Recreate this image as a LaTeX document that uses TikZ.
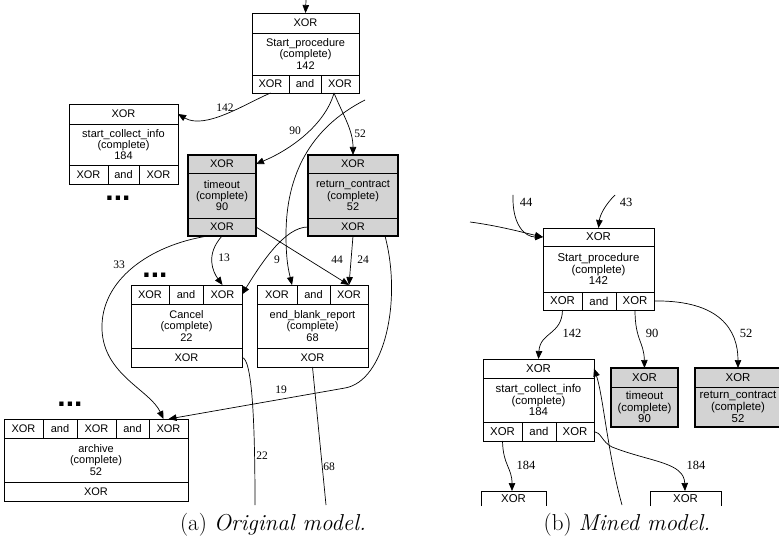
\documentclass[tikz,border=0pt]{standalone}
\usepackage{fontspec}
\newfontfamily\boxfont{Liberation Sans}
\newfontfamily\lblfont{Liberation Serif}
\usetikzlibrary{arrows.meta}
\definecolor{boxgray}{HTML}{D3D3D3}
\begin{document}
\begin{tikzpicture}[x=1pt,y=-1pt,
  cell/.style={draw=black, line width=0.7pt, inner sep=0pt, outer sep=0pt, anchor=north west, align=center, font=\boxfont\fontsize{11}{11.4}\selectfont},
  cellR/.style={cell, font=\boxfont\fontsize{11.4}{11.8}\selectfont},
  gfill/.style={fill=boxgray},
  gborder/.style={draw=black, line width=1.8pt},
  edge/.style={draw=black, line width=0.7pt, -{Triangle[length=8pt,width=6.5pt]}},
  plain/.style={draw=black, line width=0.7pt},
  lbl/.style={font=\lblfont\fontsize{11.5}{12}\selectfont, inner sep=0pt},
  lblR/.style={font=\lblfont\fontsize{12.5}{13}\selectfont, inner sep=0pt},
  dotsx/.style={font=\boxfont\bfseries\fontsize{30}{30}\selectfont, inner sep=0pt, anchor=base},
  captionx/.style={font=\fontsize{23}{27}\selectfont, inner sep=0pt, anchor=base}
]
\useasboundingbox (0,0) rectangle (779,545);
\clip (0,0) rectangle (779,545);

% ---------------- (a) original model ----------------
% Start_procedure
\node[cell, minimum width=107pt, minimum height=20pt] (SPt) at (252,13) {XOR};
\node[cell, minimum width=107pt, minimum height=42pt] (SPm) at (252,33) {Start\_procedure\\(complete)\\142};
\node[cell, minimum width=37pt, minimum height=18pt] (SPa) at (252,75) {XOR};
\node[cell, minimum width=32pt, minimum height=18pt] (SPb) at (289,75) {and};
\node[cell, minimum width=38pt, minimum height=18pt] (SPc) at (321,75) {XOR};
% start_collect_info
\node[cell, minimum width=109pt, minimum height=20pt] (SCIt) at (69,104) {XOR};
\node[cell, minimum width=109pt, minimum height=41pt] (SCIm) at (69,124) {start\_collect\_info\\(complete)\\184};
\node[cell, minimum width=39pt, minimum height=19pt] (SCIa) at (69,165) {XOR};
\node[cell, minimum width=31pt, minimum height=19pt] (SCIb) at (108,165) {and};
\node[cell, minimum width=39pt, minimum height=19pt] (SCIc) at (139,165) {XOR};
% timeout (grey)
\node[cell, gfill, minimum width=68pt, minimum height=18pt] (TOt) at (188,155) {XOR};
\node[cell, gfill, minimum width=68pt, minimum height=45pt] (TOm) at (188,173) {timeout\\(complete)\\90};
\node[cell, gfill, minimum width=68pt, minimum height=18pt] (TOb) at (188,218) {XOR};
\draw[gborder] (TOt.north west) rectangle (TOb.south east);
% return_contract (grey)
\node[cell, gfill, minimum width=90pt, minimum height=18pt] (RCt) at (308,155) {XOR};
\node[cell, gfill, minimum width=90pt, minimum height=45pt] (RCm) at (308,173) {return\_contract\\(complete)\\52};
\node[cell, gfill, minimum width=90pt, minimum height=18pt] (RCb) at (308,218) {XOR};
\draw[gborder] (RCt.north west) rectangle (RCb.south east);
% Cancel
\node[cell, minimum width=38pt, minimum height=19pt] (CAa) at (131,285) {XOR};
\node[cell, minimum width=34pt, minimum height=19pt] (CAb) at (169,285) {and};
\node[cell, minimum width=39pt, minimum height=19pt] (CAc) at (203,285) {XOR};
\node[cell, minimum width=111pt, minimum height=44pt] (CAm) at (131,304) {Cancel\\(complete)\\22};
\node[cell, minimum width=111pt, minimum height=19pt] (CAbot) at (131,348) {XOR};
% end_blank_report
\node[cell, minimum width=40pt, minimum height=19pt] (EBa) at (257,285) {XOR};
\node[cell, minimum width=33pt, minimum height=19pt] (EBb) at (297,285) {and};
\node[cell, minimum width=38pt, minimum height=19pt] (EBc) at (330,285) {XOR};
\node[cell, minimum width=111pt, minimum height=44pt] (EBm) at (257,304) {end\_blank\_report\\(complete)\\68};
\node[cell, minimum width=111pt, minimum height=19pt] (EBbot) at (257,348) {XOR};
% archive
\node[cell, minimum width=39pt, minimum height=19pt] (ARa) at (4,419) {XOR};
\node[cell, minimum width=34pt, minimum height=19pt] (ARb) at (43,419) {and};
\node[cell, minimum width=39pt, minimum height=19pt] (ARc) at (77,419) {XOR};
\node[cell, minimum width=33pt, minimum height=19pt] (ARd) at (116,419) {and};
\node[cell, minimum width=39pt, minimum height=19pt] (ARe) at (149,419) {XOR};
\node[cell, minimum width=184pt, minimum height=44pt] (ARm) at (4,438) {archive\\(complete)\\52};
\node[cell, minimum width=184pt, minimum height=19pt] (ARbot) at (4,482) {XOR};
% dots
\node[dotsx] (d1) at (118,200.5) {...};
\node[dotsx] (d2) at (155,278) {...};
\node[dotsx] (d3) at (70,406) {...};

% connectors (a)
\coordinate (in1) at (306,0);
\coordinate (fr1) at (365,100);
\coordinate (e22) at (255,505);
\coordinate (e68) at (326,505);
\draw[edge] (in1) -- (SPt.north);
\draw[edge] (SPa.south) .. controls (245,104) and (205,130) .. (SCIt.east);
\draw[edge] ([xshift=-6pt]SPc.south) .. controls (325,125) and (290,150) .. (TOt.east);
\draw[edge] ([xshift=-6pt]SPc.south) .. controls (343,115) and (353,130) .. (RCt.north);
\draw[edge] (fr1) .. controls (310,128) and (286,175) .. (286,235) .. controls (286,262) and (289,272) .. ([xshift=15pt]EBa.north);
\draw[edge] (TOb.south) .. controls (205,255) and (213,272) .. (CAc.north);
\draw[edge] (TOb.east) -- (EBc.north);
\draw[edge] (RCb.west) .. controls (285,227) and (262,262) .. (CAc.east);
\draw[edge] (RCb.south) -- (EBc.north);
\draw[edge] ([xshift=32pt]RCb.south) .. controls (402,300) and (385,381) .. (345,388) -- (ARe.north);
\draw[edge] ([xshift=-14pt]TOb.south) .. controls (150,245) and (100,280) .. (102,330) .. controls (104,375) and (150,390) .. ([xshift=-5pt]ARe.north);
\draw[plain] (CAbot.east) .. controls (252,358) and (255,420) .. (e22);
\draw[plain] (EBbot.south) -- (e68);
% labels (a)
\node[lbl] (l142) at (225,108) {142};
\node[lbl] (l90) at (295,131) {90};
\node[lbl] (l52) at (360,134) {52};
\node[lbl] (l13) at (224,258) {13};
\node[lbl] (l9) at (277,260) {9};
\node[lbl] (l44) at (337,260) {44};
\node[lbl] (l24) at (363,260) {24};
\node[lbl] (l33) at (119,265) {33};
\node[lbl] (l19) at (281,390) {19};
\node[lbl] (l22) at (262,456) {22};
\node[lbl] (l68) at (329,467) {68};

% ---------------- (b) mined model ----------------
\node[cellR, minimum width=111pt, minimum height=18pt] (SP2t) at (543,228) {XOR};
\node[cellR, minimum width=111pt, minimum height=46pt] (SP2m) at (543,246) {Start\_procedure\\(complete)\\142};
\node[cellR, minimum width=39pt, minimum height=18pt] (SP2a) at (543,292) {XOR};
\node[cellR, minimum width=34pt, minimum height=18pt] (SP2b) at (582,292) {and};
\node[cellR, minimum width=38pt, minimum height=18pt] (SP2c) at (616,292) {XOR};

\node[cellR, minimum width=111pt, minimum height=19pt] (SCI2t) at (483,359) {XOR};
\node[cellR, minimum width=111pt, minimum height=44pt] (SCI2m) at (483,378) {start\_collect\_info\\(complete)\\184};
\node[cellR, minimum width=39pt, minimum height=19pt] (SCI2a) at (483,422) {XOR};
\node[cellR, minimum width=34pt, minimum height=19pt] (SCI2b) at (522,422) {and};
\node[cellR, minimum width=38pt, minimum height=19pt] (SCI2c) at (556,422) {XOR};

\node[cellR, gfill, minimum width=67pt, minimum height=19pt] (TO2t) at (611,368) {XOR};
\node[cellR, gfill, minimum width=67pt, minimum height=40pt] (TO2m) at (611,387) {timeout\\(complete)\\90};
\draw[gborder] (TO2t.north west) rectangle (TO2m.south east);
\node[cellR, gfill, minimum width=86pt, minimum height=19pt] (RC2t) at (695,368) {XOR};
\node[cellR, gfill, minimum width=86pt, minimum height=40pt] (RC2m) at (695,387) {return\_contract\\(complete)\\52};
\draw[gborder] (RC2t.north west) rectangle (RC2m.south east);

% stub boxes at the bottom
\draw[plain] (481,506) -- (481,491) -- (546,491) -- (546,506);
\draw[plain] (650,506) -- (650,491) -- (721,491) -- (721,506);
\node[cellR, draw=none, anchor=center] (stubLt) at (513.5,499) {XOR};
\node[cellR, draw=none, anchor=center] (stubRt) at (685.5,499) {XOR};
\coordinate (stubL) at (512,491);
\coordinate (stubR) at (685,491);

% connectors (b)
\coordinate (r1) at (470,222);
\coordinate (r2) at (513,195);
\coordinate (r3) at (615,195);
\coordinate (r4) at (622,505);
\draw[edge] (r1) .. controls (500,226) and (525,233) .. (SP2t.west);
\draw[edge] (r2) .. controls (512,225) and (525,237) .. (SP2t.west);
\draw[edge] (r3) .. controls (605,205) and (600,215) .. (SP2t.north);
\draw[edge] (SP2a.south) .. controls (562,335) and (540,332) .. (SCI2t.north);
\draw[edge] (SP2c.south) .. controls (635,340) and (644,342) .. (TO2t.north);
\draw[edge] (SP2c.east) .. controls (720,300) and (738,330) .. (RC2t.north);
\draw[edge] (r4) .. controls (608,455) and (603,395) .. (SCI2t.east);
\draw[edge] (SCI2c.east) .. controls (601,432) and (602,442) .. (612,447) .. controls (650,462) and (684,462) .. (stubR);
\draw[edge] (SCI2a.south) .. controls (503,465) and (512,468) .. (stubL);
% labels (b)
\node[lblR] (m44) at (526,202) {44};
\node[lblR] (m43) at (626,202) {43};
\node[lblR] (m142) at (572,333) {142};
\node[lblR] (m90) at (652,333) {90};
\node[lblR] (m52) at (746,333) {52};
\node[lblR] (m184a) at (526,465) {184};
\node[lblR] (m184b) at (696,465) {184};

% captions
\node[captionx] (capa) at (273,530) {(a) \textit{Original model.}};
\node[captionx] (capb) at (627,530) {(b) \textit{Mined model.}};
\end{tikzpicture}
\end{document}
